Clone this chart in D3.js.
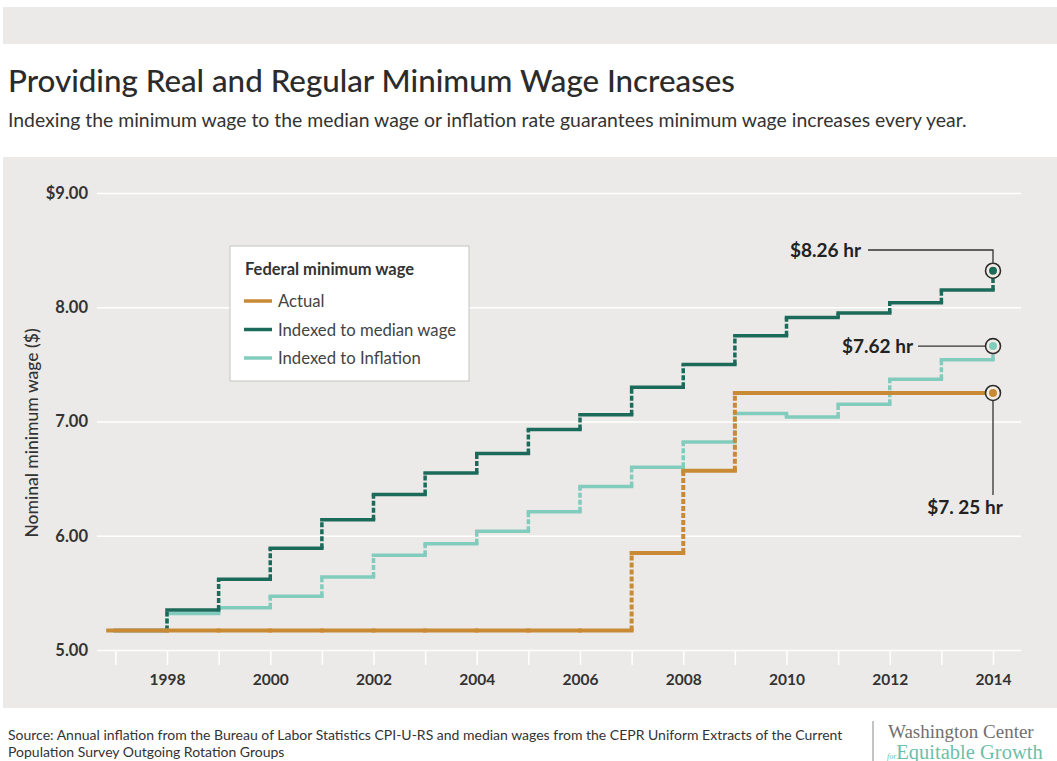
<!DOCTYPE html>
<html>
<head>
<meta charset="utf-8">
<script src="https://cdn.jsdelivr.net/npm/d3@7"></script>
<style>
  body { margin: 0; background: #fff; }
  text { font-family: Lato, "Open Sans", sans-serif; }
</style>
</head>
<body>
<svg id="chart" width="1057" height="761"></svg>
<script>
// values (wage in effect from each year onward)
var years = [1997, 1998, 1999, 2000, 2001, 2002, 2003, 2004, 2005, 2006, 2007, 2008, 2009, 2010, 2011, 2012, 2013, 2014]
var actual = [5.17, 5.17, 5.17, 5.17, 5.17, 5.17, 5.17, 5.17, 5.17, 5.17, 5.85, 6.57, 7.25, 7.25, 7.25, 7.25, 7.25, 7.25]
var medianIdx = [5.17, 5.35, 5.62, 5.89, 6.14, 6.36, 6.55, 6.72, 6.93, 7.06, 7.30, 7.50, 7.75, 7.91, 7.95, 8.04, 8.15, 8.32]
var inflationIdx = [5.17, 5.32, 5.37, 5.47, 5.64, 5.83, 5.93, 6.04, 6.21, 6.43, 6.60, 6.82, 7.07, 7.04, 7.15, 7.37, 7.54, 7.66]
var actualStart = 1996.86

var yTicks = [5, 6, 7, 8, 9]
var yTickLabels = ['5.00', '6.00', '7.00', '8.00', '$9.00']
var xLabelYears = [1998, 2000, 2002, 2004, 2006, 2008, 2010, 2012, 2014]

var seriesNames = ['Actual', 'Indexed to median wage', 'Indexed to Inflation']
var endLabels = ['$7. 25 hr', '$8.26 hr', '$7.62 hr']
var colors = ['#c98a36', '#1c6a5a', '#82ccbe']

var svg = d3.select('#chart')

// background panels
svg.append('rect').attr('x', 3).attr('y', 7).attr('width', 1054).attr('height', 37).attr('fill', '#ebeae8')
svg.append('rect').attr('x', 3).attr('y', 157).attr('width', 1054).attr('height', 551).attr('fill', '#ebeae8')

svg.append('text').attr('x', 8).attr('y', 92)
    .style('font-size', '31.3px').style('font-weight', 500).attr('fill', '#2b2b2b')
    .text('Providing Real and Regular Minimum Wage Increases')
svg.append('text').attr('x', 8).attr('y', 127)
    .style('font-size', '19.4px').attr('fill', '#333')
    .text('Indexing the minimum wage to the median wage or inflation rate guarantees minimum wage increases every year.')

var x = d3.scaleLinear().domain([1998, 2014]).range([167, 993]),
    y = d3.scaleLinear().domain([5, 9]).range([650, 193])

// gridlines + y labels
var yAxis = svg.append('g')
    .attr('transform', 'translate(97,0)')
    .call(d3.axisLeft(y).tickValues(yTicks).tickSize(-924)
        .tickFormat(function(d, i) { return yTickLabels[i] }))
yAxis.select('.domain').remove()
yAxis.selectAll('line').attr('stroke', '#fff').attr('stroke-width', 1.5)
yAxis.selectAll('text').attr('x', -9)
    .style('font-size', '16.5px').style('font-weight', 'bold').attr('fill', '#333')

// year ticks
var xTicks = svg.append('g')
    .attr('transform', 'translate(0,650)')
    .call(d3.axisBottom(x).tickValues(years).tickSize(15).tickFormat(''))
xTicks.select('.domain').remove()
xTicks.selectAll('line').attr('stroke', '#fff').attr('stroke-width', 1.5)

var xLabels = svg.append('g')
    .attr('transform', 'translate(0,650)')
    .call(d3.axisBottom(x).tickValues(xLabelYears).tickSize(0).tickPadding(24).tickFormat(d3.format('d')))
xLabels.select('.domain').remove()
xLabels.selectAll('text').style('font-size', '15.5px').style('font-weight', 'bold').attr('fill', '#333')

svg.append('text')
    .attr('transform', 'translate(38,433) rotate(-90)')
    .attr('text-anchor', 'middle')
    .style('font-size', '17.5px').style('font-weight', 500).attr('fill', '#333')
    .text('Nominal minimum wage ($)')

// step lines: horizontals solid, risers dashed
function drawSteps(vals, color, width, start) {
  var g = svg.append('g')
  var horiz = [], risers = []
  for (var i = 0; i < vals.length - 1; i++) {
    var x0 = (i === 0 && start !== undefined) ? start : years[i]
    horiz.push({x0: x0, x1: years[i + 1], v: vals[i]})
    if (vals[i + 1] !== vals[i]) risers.push({xv: years[i + 1], v0: vals[i], v1: vals[i + 1]})
  }
  g.selectAll('.h').data(horiz).enter().append('line')
      .attr('x1', function(d) { return x(d.x0) }).attr('x2', function(d) { return x(d.x1) })
      .attr('y1', function(d) { return y(d.v) }).attr('y2', function(d) { return y(d.v) })
      .attr('stroke', color).attr('stroke-width', width).attr('stroke-linecap', 'square')
  g.selectAll('.r').data(risers).enter().append('line')
      .attr('x1', function(d) { return x(d.xv) }).attr('x2', function(d) { return x(d.xv) })
      .attr('y1', function(d) { return y(d.v0) }).attr('y2', function(d) { return y(d.v1) })
      .attr('stroke', color).attr('stroke-width', width).attr('stroke-dasharray', '5,2')
}

drawSteps(inflationIdx, colors[2], 3.5)
drawSteps(medianIdx, colors[1], 3.5)
drawSteps(actual, colors[0], 4, actualStart)

// end markers + annotations
var last = years[years.length - 1]
var ends = [actual, medianIdx, inflationIdx].map(function(s, i) {
  return {v: s[s.length - 1], color: colors[i], label: endLabels[i]}
})

var ann = svg.append('g').attr('stroke', '#333').attr('stroke-width', 1.3).attr('fill', 'none')
ann.append('path').attr('d', 'M' + 868 + ',' + 250 + 'H' + x(last) + 'V' + (y(ends[1].v) - 8))
ann.append('path').attr('d', 'M' + 918 + ',' + y(ends[2].v) + 'H' + (x(last) - 8))
ann.append('path').attr('d', 'M' + x(last) + ',' + (y(ends[0].v) + 8) + 'V' + 495)

svg.selectAll('.endc').data(ends).enter().append('circle')
    .attr('cx', x(last)).attr('cy', function(d) { return y(d.v) }).attr('r', 7.5)
    .attr('fill', '#f2eee6').attr('stroke', '#2d2d2d').attr('stroke-width', 1.6)
svg.selectAll('.endd').data(ends).enter().append('circle')
    .attr('cx', x(last)).attr('cy', function(d) { return y(d.v) }).attr('r', 4)
    .attr('fill', function(d) { return d.color })

var lbl = svg.append('g').style('font-size', '19px').style('font-weight', 'bold').attr('fill', '#222')
lbl.append('text').attr('x', 861).attr('y', 257).attr('text-anchor', 'end').text(ends[1].label)
lbl.append('text').attr('x', 913).attr('y', y(ends[2].v) + 7).attr('text-anchor', 'end').text(ends[2].label)
lbl.append('text').attr('x', 965).attr('y', 514).attr('text-anchor', 'middle').text(ends[0].label)

// legend
var leg = svg.append('g').attr('transform', 'translate(230,246)')
leg.append('rect').attr('width', 239).attr('height', 135).attr('fill', '#fff').attr('stroke', '#c4c4c4').attr('stroke-width', 1)
leg.append('text').attr('x', 15).attr('y', 29).style('font-size', '16.5px').style('font-weight', 'bold').attr('fill', '#333').text('Federal minimum wage')
var items = leg.selectAll('.item').data(seriesNames).enter().append('g')
    .attr('transform', function(d, i) { return 'translate(14,' + (55 + i * 28.5) + ')' })
items.append('line').attr('x1', 0).attr('x2', 28).attr('stroke', function(d, i) { return colors[i] }).attr('stroke-width', 3.5)
items.append('text').attr('x', 34).attr('y', 6).style('font-size', '16.7px').attr('fill', '#444').text(function(d) { return d })

// footer
var foot = svg.append('g').style('font-size', '14px').attr('fill', '#333')
foot.append('text').attr('x', 8).attr('y', 740).text('Source: Annual inflation from the Bureau of Labor Statistics CPI-U-RS and median wages from the CEPR Uniform Extracts of the Current')
foot.append('text').attr('x', 8).attr('y', 757).text('Population Survey Outgoing Rotation Groups')
svg.append('line').attr('x1', 873).attr('x2', 873).attr('y1', 721).attr('y2', 761).attr('stroke', '#888').attr('stroke-width', 1)
svg.append('text').attr('x', 888).attr('y', 738).style('font-family', '"Liberation Serif", "DejaVu Serif", serif')
    .style('font-size', '19px').attr('fill', '#6f6f6f').text('Washington Center')
var eg = svg.append('text').attr('x', 887).attr('y', 759).style('font-family', '"Liberation Serif", "DejaVu Serif", serif').attr('fill', '#6cbfa9')
eg.append('tspan').style('font-size', '8px').style('font-style', 'italic').text('for')
eg.append('tspan').style('font-size', '20.5px').text('Equitable Growth')
</script>
</body>
</html>
